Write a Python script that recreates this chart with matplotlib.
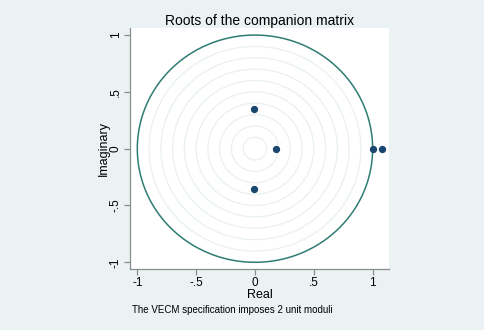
import numpy as np
import matplotlib.pyplot as plt

plt.rcParams['font.family'] = ['Liberation Sans', 'DejaVu Sans']

# eigenvalues of the companion matrix
real = [-0.005, -0.005, 0.181, 1.0, 1.079]
imag = [0.352, -0.354, 0.0, 0.0, 0.0]
grid_radii = [0.1, 0.2, 0.3, 0.4, 0.5, 0.6, 0.7, 0.8, 0.9]
ticks = [-1, -0.5, 0, 0.5, 1]
tick_labels = ['-1', '-.5', '0', '.5', '1']

bg = '#EAF2F3'
fig = plt.figure(figsize=(4.84, 3.30), dpi=100, facecolor=bg)
ax = fig.add_axes([0.2686, 0.1848, 0.5351, 0.7303])
ax.set_facecolor('white')

t = np.linspace(0, 2 * np.pi, 400)
for r in grid_radii:
    ax.plot(r * np.cos(t), r * np.sin(t), color='#E8F1F0', lw=0.9, zorder=1)
ax.plot(np.cos(t), np.sin(t), color='#2F7C74', lw=1.1, zorder=2)

ax.scatter(real, imag, s=18, color='#1A476F', zorder=3)

ax.set_xlim(-1.062, 1.139)
ax.set_ylim(-1.059, 1.062)
ax.set_xticks(ticks)
ax.set_xticklabels(tick_labels)
ax.set_yticks(ticks)
ax.set_yticklabels(tick_labels, rotation=90, va='center')

for s in ['top', 'right']:
    ax.spines[s].set_visible(False)
for s in ['left', 'bottom']:
    ax.spines[s].set_color('#8C8C8C')
    ax.spines[s].set_linewidth(0.9)
ax.tick_params(colors='#8C8C8C', labelcolor='black', labelsize=8.5, length=4, width=0.9, pad=2)

ax.set_title('Roots of the companion matrix', fontsize=10, pad=0)
ax.set_xlabel('Real', fontsize=9, labelpad=0)
ax.set_ylabel('Imaginary', fontsize=9, labelpad=0)
fig.text(132 / 484, 1 - 310 / 330, 'The VECM specification imposes 2 unit moduli',
         fontsize=7, va='center', ha='left')

fig.savefig('out.png', dpi=100, facecolor=bg)
